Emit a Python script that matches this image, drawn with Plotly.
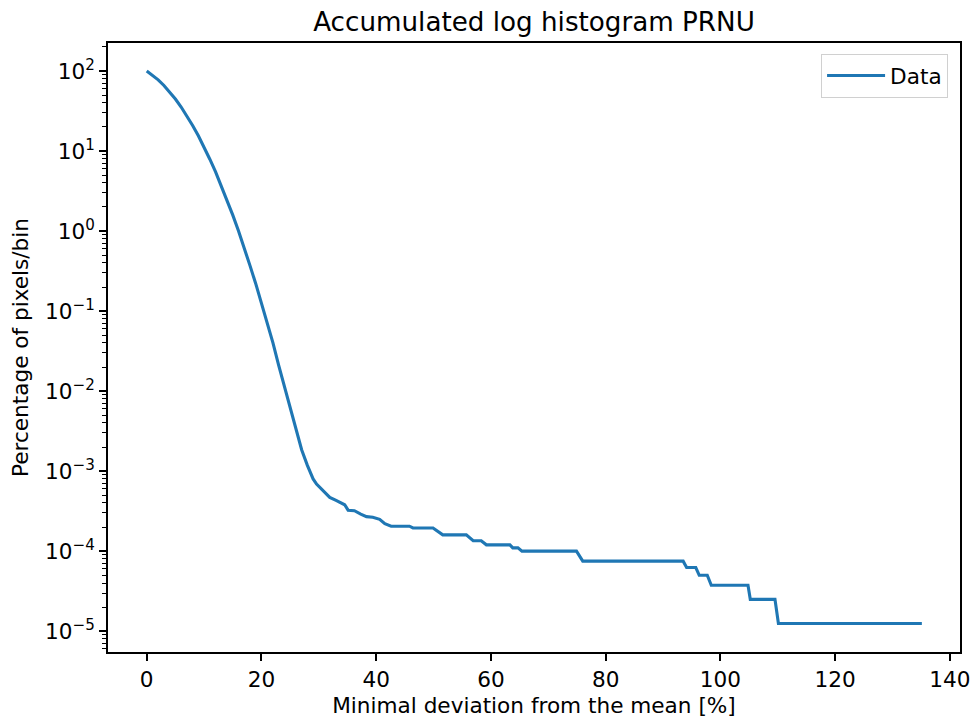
import plotly.graph_objects as go

# Minimal deviation from the mean [%]
deviation = [0, 1, 2, 3, 4, 5, 6, 7, 8, 9, 10, 11, 12, 13, 14, 15, 16, 17, 18, 19,
             20, 21, 22, 23, 24, 25, 26, 27, 28, 29, 29.6, 30.4, 31.2, 31.9, 33.0,
             33.9, 34.5, 35.1, 36.2, 37.3, 38.3, 39.4, 40.0, 40.6, 41.5, 42.6, 45.8,
             46.4, 49.9, 51.6, 55.7, 56.9, 58.3, 59.2, 63.3, 63.8, 64.7, 65.4, 74.9,
             76.0, 93.5, 94.1, 95.7, 96.3, 97.7, 98.4, 104.8, 105.2, 109.5, 110.1, 135.1]

# Percentage of pixels/bin
percentage = [100, 89, 77.6, 66, 55, 44.7, 35.5, 27.5, 20.9, 15.5, 11.2, 7.9, 5.5, 3.7,
              2.45, 1.58, 1.0, 0.62, 0.37, 0.22, 0.125, 0.071, 0.040, 0.021, 0.0113,
              0.0060, 0.0033, 0.00185, 0.00118, 0.00080, 0.00069, 0.00060, 0.00052,
              0.00047, 0.00043, 0.00040, 0.00038, 0.000325, 0.00032, 0.00029, 0.00027,
              0.000265, 0.00026, 0.00025, 0.00022, 0.000205, 0.000205, 0.000195,
              0.000195, 0.00016, 0.00016, 0.000135, 0.000135, 0.00012, 0.00012,
              0.00011, 0.00011, 0.0001, 0.0001, 0.000075, 0.000075, 0.0000625,
              0.0000625, 0.00005, 0.00005, 0.0000375, 0.0000375, 0.000025, 0.000025,
              0.0000125, 0.0000125]

x_ticks = [0, 20, 40, 60, 80, 100, 120, 140]
y_ticks = [1e-5, 1e-4, 1e-3, 1e-2, 1e-1, 1e0, 1e1, 1e2]
y_tick_text = ["10<sup>−5</sup>", "10<sup>−4</sup>", "10<sup>−3</sup>", "10<sup>−2</sup>",
               "10<sup>−1</sup>", "10<sup>0</sup>", "10<sup>1</sup>", "10<sup>2</sup>"]

minor_y = [m * 10.0 ** e for e in range(-6, 3) for m in range(2, 10)]

FONT = "DejaVu Sans"
FS = 21.6

fig = go.Figure()
fig.add_trace(go.Scatter(
    x=deviation, y=percentage, mode="lines", name="Data",
    line=dict(color="#1f77b4", width=3.1),
))

fig.update_layout(
    width=974, height=720,
    margin=dict(l=108, r=14, t=43, b=68, autoexpand=False),
    paper_bgcolor="white", plot_bgcolor="white",
    font=dict(family=FONT, size=FS, color="black"),
    title=dict(text="Accumulated log histogram PRNU", x=0.5, xanchor="center",
               xref="paper", yref="container", y=1 - 22 / 720, yanchor="middle",
               automargin=False,
               font=dict(size=26.2, family=FONT, color="black")),
    showlegend=True,
    legend=dict(x=0.986, y=0.982, xanchor="right", yanchor="top",
                bgcolor="white", bordercolor="#d0d0d0", borderwidth=1,
                itemwidth=58,
                font=dict(size=FS, family=FONT, color="black")),
)

fig.update_xaxes(
    range=[-6.75, 141.75], tickvals=x_ticks, ticktext=[str(v) for v in x_ticks],
    automargin=False,
    showline=True, linecolor="black", linewidth=1.6, mirror=True,
    ticks="outside", ticklen=7, tickwidth=1.6, tickcolor="black",
    showgrid=False, zeroline=False,
    tickfont=dict(size=FS, family=FONT, color="black"),
    title=dict(text="Minimal deviation from the mean [%]", standoff=7,
               font=dict(size=FS, family=FONT, color="black")),
)

fig.update_yaxes(
    type="log", range=[-5.26, 2.35], tickvals=y_ticks, ticktext=y_tick_text,
    automargin=False,
    showline=True, linecolor="black", linewidth=1.6, mirror=True,
    ticks="outside", ticklen=7, tickwidth=1.6, tickcolor="black",
    showgrid=False, zeroline=False,
    minor=dict(tickmode="array", tickvals=minor_y, ticks="outside", ticklen=4,
               tickwidth=1.2, tickcolor="black", showgrid=False),
    tickfont=dict(size=FS, family=FONT, color="black"),
    title=dict(text="Percentage of pixels/bin", standoff=11,
               font=dict(size=FS, family=FONT, color="black")),
)

fig.write_html("out.html", config={"displayModeBar": False},
               post_script="document.body.style.margin='0';document.body.style.overflow='hidden';")
